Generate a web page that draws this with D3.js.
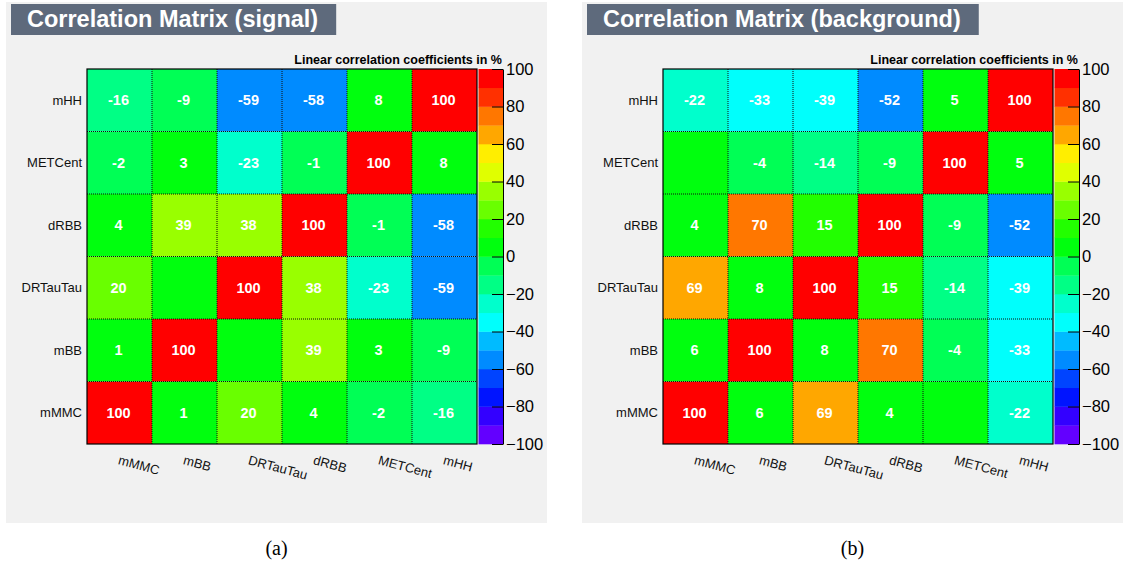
<!DOCTYPE html>
<html><head><meta charset="utf-8">
<script src="https://cdn.jsdelivr.net/npm/d3@7"></script>
<style>
body{margin:0;background:#fff;}
svg{display:block;font-family:"Liberation Sans",Arial,Helvetica,sans-serif;}
</style>
</head><body>
<svg id="c" width="1123" height="567"></svg>
<script>
// ---- data ----
const variables = ["mMMC", "mBB", "DRTauTau", "dRBB", "METCent", "mHH"];
const rowsTopToBottom = ["mHH", "METCent", "dRBB", "DRTauTau", "mBB", "mMMC"];
// correlation in %, order of `variables`
const signalMatrix = [
  [100,   1,  20,   4,  -2, -16],
  [  1, 100,   0,  39,   3,  -9],
  [ 20,   0, 100,  38, -23, -59],
  [  4,  39,  38, 100,  -1, -58],
  [ -2,   3, -23,  -1, 100,   8],
  [-16,  -9, -59, -58,   8, 100]
];
const backgroundMatrix = [
  [100,   6,  69,   4,   0, -22],
  [  6, 100,   8,  70,  -4, -33],
  [ 69,   8, 100,  15, -14, -39],
  [  4,  70,  15, 100,  -9, -52],
  [  0,  -4, -14,  -9, 100,   5],
  [-22, -33, -39, -52,   5, 100]
];
const colorTicks = [-100, -80, -60, -40, -20, 0, 20, 40, 60, 80, 100];
const contourLevels = [-90, -80, -70, -60, -50, -40, -30, -20, -10, 0, 10, 20, 30, 40, 50, 60, 70, 80, 90];
const contourEdges = [-100, -90, -80, -70, -60, -50, -40, -30, -20, -10, 0, 10, 20, 30, 40, 50, 60, 70, 80, 90, 100];
const palette = ["#6300ff", "#3300ff", "#0014ff", "#0044ff", "#008bff", "#00bbff", "#00fffc", "#00ffcc",
  "#00ff85", "#00ff55", "#00ff0e", "#22ff00", "#69ff00", "#99ff00", "#e0ff00", "#ffee00",
  "#ffa700", "#ff7700", "#ff3000", "#ff0000"];
const panels = [
  {title: "Correlation Matrix (signal)", caption: "(a)", matrix: signalMatrix, dx: 0},
  {title: "Correlation Matrix (background)", caption: "(b)", matrix: backgroundMatrix, dx: 576}
];

// ---- layout ----
const L = {bgX: 6, bgY: 2, bgW: 541, bgH: 521,
  plotL: 87, plotR: 477, plotT: 69, plotB: 444,
  barL: 478.5, barR: 503};

const svg = d3.select("#c");
const color = d3.scaleThreshold().domain(contourLevels).range(palette);
const x = d3.scaleBand().domain(variables).range([L.plotL, L.plotR]);
const y = d3.scaleBand().domain(rowsTopToBottom).range([L.plotT, L.plotB]);
const zy = d3.scaleLinear().domain([-100, 100]).range([L.plotB, L.plotT]);

panels.forEach(p => {
  const g = svg.append("g").attr("transform", `translate(${p.dx},0)`);
  g.append("rect").attr("x", L.bgX).attr("y", L.bgY).attr("width", L.bgW).attr("height", L.bgH).attr("fill", "#f1f1f1");

  // title box
  const tb = g.append("rect").attr("x", 11).attr("y", 4).attr("height", 31).attr("fill", "#5e6a7c");
  const tt = g.append("text").attr("x", 27).attr("y", 27).attr("fill", "#fff")
    .attr("font-size", 23.5).attr("font-weight", "bold").text(p.title);
  const bb = tt.node().getBBox();
  tb.attr("width", bb.x + bb.width + 18 - 11);

  // subtitle
  g.append("text").attr("x", L.barR - 1).attr("y", 64).attr("text-anchor", "end")
    .attr("font-size", 12.5).attr("font-weight", "bold").attr("fill", "#000")
    .text("Linear correlation coefficients in %");

  // cells
  const cells = [];
  variables.forEach((rv, i) => variables.forEach((cv, j) => cells.push({row: rv, col: cv, v: p.matrix[i][j]})));
  g.selectAll("rect.cell").data(cells).join("rect").attr("class", "cell")
    .attr("x", d => x(d.col)).attr("y", d => y(d.row))
    .attr("width", x.bandwidth()).attr("height", y.bandwidth())
    .attr("fill", d => color(d.v));

  // dotted cell borders
  const grid = g.append("g").attr("stroke", "#111").attr("stroke-width", 1).attr("stroke-dasharray", "1,1").attr("fill", "none");
  variables.slice(1).forEach(v => {
    grid.append("line").attr("x1", x(v)).attr("x2", x(v)).attr("y1", L.plotT).attr("y2", L.plotB);
  });
  rowsTopToBottom.slice(1).forEach(v => {
    grid.append("line").attr("y1", y(v)).attr("y2", y(v)).attr("x1", L.plotL).attr("x2", L.plotR);
  });
  g.append("rect").attr("x", L.plotL).attr("y", L.plotT).attr("width", L.plotR - L.plotL).attr("height", L.plotB - L.plotT)
    .attr("fill", "none").attr("stroke", "#000").attr("stroke-width", 1.2);

  // cell texts (zero entries are not printed)
  g.selectAll("text.val").data(cells.filter(d => d.v !== 0)).join("text").attr("class", "val")
    .attr("x", d => x(d.col) + x.bandwidth() / 2 - 1).attr("y", d => y(d.row) + y.bandwidth() / 2 + 5)
    .attr("text-anchor", "middle").attr("font-size", 14.5).attr("font-weight", "bold").attr("fill", "#fff")
    .text(d => String(d.v));

  // row labels
  g.selectAll("text.rl").data(rowsTopToBottom).join("text").attr("class", "rl")
    .attr("x", L.plotL - 5).attr("y", d => y(d) + y.bandwidth() / 2 + 4.5)
    .attr("text-anchor", "end").attr("font-size", 13).attr("fill", "#111").text(d => d);

  // column labels (rotated)
  g.selectAll("text.cl").data(variables).join("text").attr("class", "cl")
    .attr("transform", d => `translate(${x(d) + x.bandwidth() / 2 - 2},464) rotate(15)`)
    .attr("font-size", 13).attr("fill", "#111").text(d => d);

  // color bar
  const bins = contourEdges.slice(0, -1).map((lo, i) => ({lo, hi: contourEdges[i + 1], c: palette[i]}));
  g.selectAll("rect.bin").data(bins).join("rect").attr("class", "bin")
    .attr("x", L.barL).attr("width", L.barR - L.barL)
    .attr("y", d => zy(d.hi)).attr("height", d => zy(d.lo) - zy(d.hi) + 0.3)
    .attr("fill", d => d.c);
  const ax = g.append("g").attr("transform", `translate(${L.barR},0)`)
    .call(d3.axisRight(zy).tickValues(colorTicks).tickSize(0).tickPadding(3)
      .tickFormat(d => d < 0 ? "\u2212" + Math.abs(d) : String(d)));
  ax.select(".domain").attr("stroke", "#000");
  ax.selectAll(".tick text").attr("font-size", 16.5).attr("fill", "#000")
    .attr("font-family", "\"Liberation Sans\",Arial,sans-serif");
  ax.selectAll(".tick").append("line").attr("x1", 0).attr("x2", -11).attr("stroke", "#000");

  // caption
  g.append("text").attr("x", L.bgX + L.bgW / 2).attr("y", 555).attr("text-anchor", "middle")
    .attr("font-family", "\"Liberation Serif\",\"Times New Roman\",serif").attr("font-size", 20).attr("fill", "#000")
    .text(p.caption);
});
</script>
</body></html>
